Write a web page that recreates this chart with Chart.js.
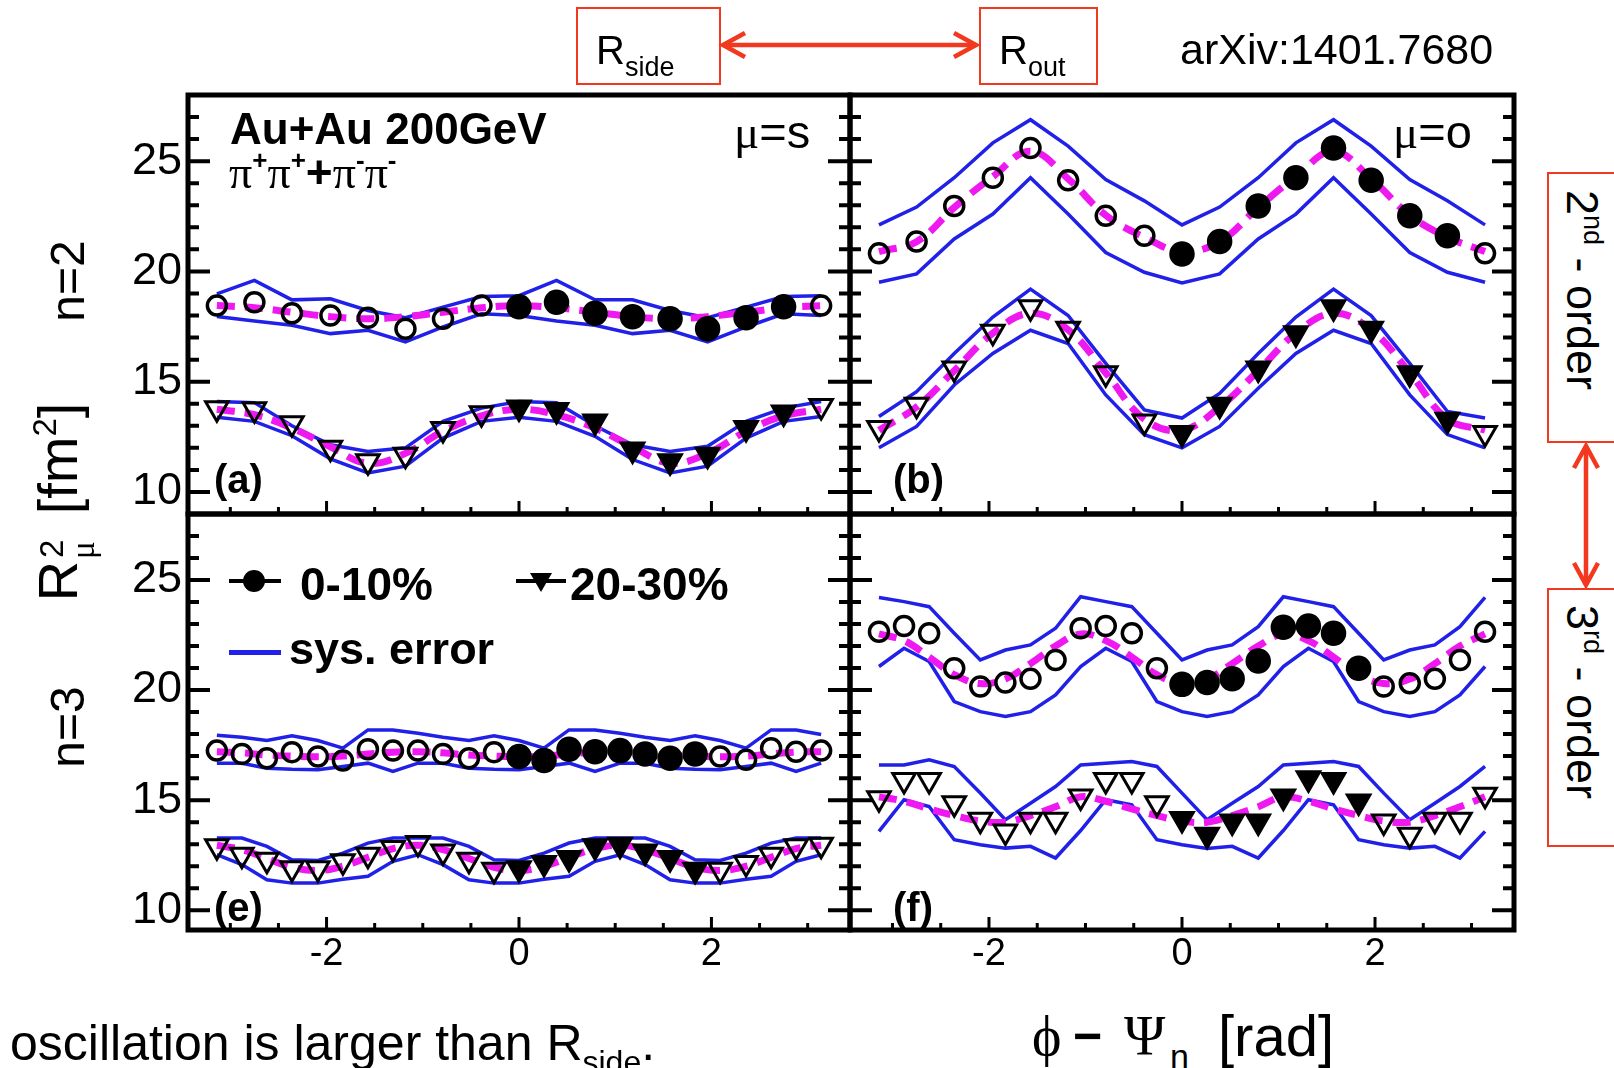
<!DOCTYPE html>
<html lang="en">
<head>
<meta charset="UTF-8">
<title>HBT radii vs phi - Psi_n</title>
<style>
  body { margin: 0; background: #fff; }
  #page { position: relative; width: 1614px; height: 1068px; overflow: hidden; background: #fff; font-family: "Liberation Sans", Arial, sans-serif; }
  #page canvas { position: absolute; }
  .t { position: absolute; white-space: nowrap; line-height: 1; color: #000; }
  .gr { font-family: "Liberation Serif", "DejaVu Serif", serif; font-weight: normal; }
  .sp { position: relative; top: -19px; font-size: 26px; }
  .rbox { position: absolute; border: 2px solid #f2381f; box-sizing: border-box; }
  .rot { transform: translate(-50%, -50%) rotate(-90deg); }
  .rotcw { transform: translate(-50%, -50%) rotate(90deg); }
  .mk { position: absolute; }
</style>
</head>
<body>
<div id="page">
  <canvas id="pa"></canvas>
  <canvas id="pb"></canvas>
  <canvas id="pe"></canvas>
  <canvas id="pf"></canvas>

  <!-- panel texts -->
  <div class="t" style="left:230px; top:107px; font-size:44px; font-weight:bold;">Au+Au 200GeV</div>
  <div class="t" style="left:229px; top:149px; font-size:46px; font-weight:bold;"><span class="gr">π</span><span class="sp">+</span><span class="gr">π</span><span class="sp">+</span>+<span class="gr">π</span><span class="sp">-</span><span class="gr">π</span><span class="sp">-</span></div>
  <div class="t" style="left:734px; top:108px; font-size:47px;"><span class="gr">μ</span>=s</div>
  <div class="t" style="left:1393px; top:108px; font-size:47px;"><span class="gr">μ</span>=o</div>
  <div class="t" style="left:214px; top:459px; font-size:40px; font-weight:bold;">(a)</div>
  <div class="t" style="left:893px; top:459px; font-size:40px; font-weight:bold;">(b)</div>
  <div class="t" style="left:214px; top:887px; font-size:40px; font-weight:bold;">(e)</div>
  <div class="t" style="left:893px; top:887px; font-size:40px; font-weight:bold;">(f)</div>

  <!-- legend in (e) -->
  <div class="mk" style="left:229px; top:579px; width:52px; height:4px; background:#000"></div>
  <div class="mk" style="left:243px; top:570px; width:22px; height:22px; border-radius:50%; background:#000"></div>
  <div class="t" style="left:300px; top:561px; font-size:46px; font-weight:bold;">0-10%</div>
  <div class="mk" style="left:516px; top:579px; width:50px; height:4px; background:#000"></div>
  <div class="mk" style="left:530px; top:573px; width:0; height:0; border-left:11px solid transparent; border-right:11px solid transparent; border-top:19px solid #000"></div>
  <div class="t" style="left:570px; top:561px; font-size:46px; font-weight:bold;">20-30%</div>
  <div class="mk" style="left:229px; top:650px; width:52px; height:5px; background:#2020e8"></div>
  <div class="t" style="left:289px; top:626px; font-size:45px; font-weight:bold;">sys. error</div>

  <!-- axis titles -->
  <div class="t rot" style="left:53px; top:502px; font-size:56px;">R<span style="display:inline-block; position:relative; width:31px; height:56px;"><span style="position:absolute; left:3px; top:14px; font-size:33px; line-height:1;">2</span><span class="gr" style="position:absolute; left:2px; top:46px; font-size:33px; line-height:1;">μ</span></span> [fm<span style="position:relative; top:-21px; font-size:33px;">2</span>]</div>
  <div class="t rot" style="left:68px; top:281px; font-size:48px;">n=2</div>
  <div class="t rot" style="left:68px; top:727px; font-size:48px;">n=3</div>
  <div class="t gr" style="left:1032px; top:1008px; font-size:56px;">ϕ</div>
  <div class="t" style="left:1073px; top:1011px; font-size:50px; font-weight:bold;">−</div>
  <div class="t gr" style="left:1124px; top:1008px; font-size:56px;">Ψ</div>
  <div class="t" style="left:1170px; top:1039px; font-size:34px;">n</div>
  <div class="t" style="left:1218px; top:1007px; font-size:58px;">[rad]</div>

  <!-- slide annotations -->
  <div class="rbox" style="left:576px; top:7px; width:145px; height:78px;"></div>
  <div class="t" style="left:596px; top:30px; font-size:40px;">R<span style="position:relative; top:12px; font-size:27px;">side</span></div>
  <div class="rbox" style="left:979px; top:7px; width:119px; height:78px;"></div>
  <div class="t" style="left:999px; top:30px; font-size:40px;">R<span style="position:relative; top:12px; font-size:27px;">out</span></div>
  <div class="t" style="left:1180px; top:28px; font-size:43px;">arXiv:1401.7680</div>
  <div class="rbox" style="left:1547px; top:172px; width:90px; height:271px;"></div>
  <div class="t rotcw" style="left:1582px; top:290px; font-size:45px;">2<span style="position:relative; top:-17px; font-size:27px;">nd</span> - order</div>
  <div class="rbox" style="left:1547px; top:588px; width:90px; height:259px;"></div>
  <div class="t rotcw" style="left:1582px; top:702px; font-size:45px;">3<span style="position:relative; top:-17px; font-size:27px;">rd</span> - order</div>
  <svg style="position:absolute; left:0; top:0;" width="1614" height="1068">
    <g stroke="#f2381f" stroke-width="4.5" fill="none">
      <line x1="723" y1="45" x2="976" y2="45"/>
      <polyline points="745,33 723,45 745,57"/>
      <polyline points="954,33 976,45 954,57"/>
      <line x1="1586" y1="446" x2="1586" y2="585"/>
      <polyline points="1574,468 1586,446 1598,468"/>
      <polyline points="1574,563 1586,585 1598,563"/>
    </g>
  </svg>
  <div class="t" style="left:10px; top:1018px; font-size:50px;">oscillation is larger than R<span style="position:relative; top:13px; font-size:32px;">side</span>.</div>
</div>

<script src="https://cdn.jsdelivr.net/npm/chart.js"></script>
<script>
// phi - Psi_n positions (rad)
const phiN2 = [-3.14, -2.75, -2.36, -1.96, -1.57, -1.18, -0.79, -0.39, 0, 0.39, 0.79, 1.18, 1.57, 1.96, 2.36, 2.75, 3.14];
const measN2 = [0,0,0,0,0,0,0,0,1,1,1,1,1,1,1,1,0];   // 1 = measured (filled), 0 = reflected (open)
const phiN3 = [-3.14, -2.88, -2.62, -2.36, -2.09, -1.83, -1.57, -1.31, -1.05, -0.79, -0.52, -0.26, 0,
               0.26, 0.52, 0.79, 1.05, 1.31, 1.57, 1.83, 2.09, 2.36, 2.62, 2.88, 3.14];
const measN3 = [0,0,0,0,0,0,0,0,0,0,0,0,1,1,1,1,1,1,1,1,0,0,0,0,0];

// (a) R_side^2, n=2
const side2C    = [18.45, 18.6, 18.1, 18.0, 17.9, 17.4, 17.85, 18.45, 18.4, 18.6, 18.1, 17.95, 17.85, 17.4, 17.9, 18.4, 18.45];
const side2CHi  = [18.98, 19.59, 18.71, 18.76, 18.23, 17.9, 18.38, 18.86, 18.9, 19.59, 18.71, 18.71, 18.23, 17.9, 18.38, 18.86, 18.9];
const side2CLo  = [17.96, 17.75, 17.56, 17.18, 17.33, 16.8, 17.48, 18.08, 18.0, 17.75, 17.56, 17.18, 17.33, 16.8, 17.48, 18.08, 18.0];
const side2CFit = [18.45, 18.35, 18.15, 17.95, 17.85, 17.95, 18.15, 18.35, 18.45, 18.35, 18.15, 17.95, 17.85, 17.95, 18.15, 18.35, 18.45];
const side2T    = [13.8, 13.75, 13.12, 12.0, 11.39, 11.69, 12.85, 13.57, 13.83, 13.72, 13.2, 11.92, 11.39, 11.69, 12.9, 13.6, 13.9];
const side2THi  = [14.1, 14.05, 13.0, 12.14, 11.84, 12.0, 13.2, 13.8, 14.1, 14.05, 13.0, 12.14, 11.84, 12.07, 13.2, 13.8, 14.1];
const side2TLo  = [13.39, 13.2, 12.55, 11.5, 10.86, 11.17, 12.44, 13.2, 13.39, 13.2, 12.52, 11.47, 10.86, 11.17, 12.44, 13.2, 13.42];
const side2TFit = [13.75, 13.5, 12.9, 12.05, 11.3, 11.75, 12.75, 13.45, 13.75, 13.5, 12.9, 12.05, 11.3, 11.75, 12.75, 13.45, 13.75];

// (b) R_out^2, n=2
const out2C    = [20.82, 21.36, 22.97, 24.25, 25.6, 24.13, 22.52, 21.62, 20.79, 21.36, 22.97, 24.25, 25.6, 24.13, 22.52, 21.62, 20.82];
const out2CHi  = [22.11, 22.92, 24.25, 25.83, 26.88, 25.68, 24.17, 23.2, 22.11, 22.92, 24.25, 25.83, 26.88, 25.68, 24.17, 23.2, 22.11];
const out2CLo  = [19.51, 19.89, 21.47, 22.6, 24.25, 22.6, 20.86, 19.96, 19.48, 19.89, 21.47, 22.6, 24.25, 22.6, 20.86, 19.96, 19.51];
const out2CFit = [20.9, 21.35, 22.9, 24.3, 25.45, 24.2, 22.55, 21.55, 20.9, 21.35, 22.9, 24.3, 25.45, 24.2, 22.55, 21.55, 20.9];
const out2T    = [12.9, 13.95, 15.6, 17.26, 18.38, 17.4, 15.38, 13.2, 12.67, 13.95, 15.6, 17.2, 18.38, 17.4, 15.38, 13.27, 12.67];
const out2THi  = [13.42, 14.55, 16.28, 17.93, 19.2, 18.0, 15.83, 13.72, 13.35, 14.47, 16.28, 17.93, 19.2, 18.0, 15.83, 13.65, 13.35];
const out2TLo  = [12.0, 12.97, 14.85, 16.28, 17.33, 16.73, 14.4, 12.6, 12.0, 12.97, 14.7, 16.28, 17.33, 16.73, 14.4, 12.6, 12.0];
const out2TFit = [12.8, 13.85, 15.5, 17.2, 18.1, 17.35, 15.4, 13.3, 12.8, 13.85, 15.5, 17.2, 18.1, 17.35, 15.4, 13.3, 12.8];

// (e) R_side^2, n=3
const side3C    = [17.25, 17.1, 16.9, 17.18, 16.98, 16.8, 17.31, 17.25, 17.25, 17.1, 16.9, 17.18, 16.98, 16.8, 17.31, 17.2, 17.25, 17.1, 16.9, 17.1, 16.98, 16.83, 17.36, 17.2, 17.25];
const side3CHi  = [17.95, 17.86, 17.71, 17.92, 17.71, 17.36, 18.19, 18.19, 18.04, 17.86, 17.71, 17.92, 17.71, 17.36, 18.19, 18.19, 18.04, 17.86, 17.71, 17.92, 17.71, 17.36, 18.19, 18.19, 17.98];
const side3CLo  = [16.68, 16.68, 16.45, 16.4, 16.38, 16.53, 16.68, 16.3, 16.68, 16.68, 16.45, 16.4, 16.38, 16.53, 16.68, 16.3, 16.68, 16.68, 16.45, 16.4, 16.38, 16.53, 16.68, 16.3, 16.68];
const side3CFit = [17.2, 17.15, 17.05, 17.0, 16.97, 17.0, 17.1, 17.18, 17.2, 17.15, 17.05, 17.0, 16.97, 17.0, 17.1, 17.18, 17.2, 17.15, 17.05, 17.0, 16.97, 17.0, 17.1, 17.18, 17.2];
const side3T    = [12.9, 12.52, 12.29, 11.91, 11.91, 12.22, 12.52, 12.82, 13.05, 12.67, 12.29, 11.84, 11.91, 12.14, 12.37, 12.9, 12.97, 12.67, 12.37, 11.84, 11.84, 12.14, 12.52, 12.9, 12.97];
const side3THi  = [13.28, 13.28, 12.9, 12.29, 12.26, 12.59, 13.05, 13.28, 13.28, 13.28, 12.9, 12.29, 12.26, 12.59, 13.05, 13.28, 13.28, 13.28, 12.9, 12.29, 12.26, 12.59, 13.05, 13.28, 13.28];
const side3TLo  = [12.52, 12.07, 11.38, 11.23, 11.23, 11.41, 11.54, 12.22, 12.52, 12.07, 11.38, 11.23, 11.23, 11.41, 11.54, 12.22, 12.52, 12.07, 11.38, 11.23, 11.23, 11.41, 11.54, 12.22, 12.52];
const side3TFit = [12.95, 12.75, 12.35, 11.95, 11.8, 12.0, 12.4, 12.8, 12.95, 12.75, 12.35, 11.95, 11.8, 12.0, 12.4, 12.8, 12.95, 12.75, 12.35, 11.95, 11.8, 12.0, 12.4, 12.8, 12.95];

// (f) R_out^2, n=3
const out3C    = [22.65, 22.91, 22.58, 20.99, 20.16, 20.34, 20.51, 21.37, 22.81, 22.91, 22.58, 20.99, 20.26, 20.34, 20.51, 21.32, 22.85, 22.91, 22.58, 20.99, 20.16, 20.31, 20.51, 21.37, 22.65];
const out3CHi  = [24.21, 24.02, 23.79, 22.58, 21.37, 21.82, 22.05, 22.81, 24.24, 24.02, 23.79, 22.58, 21.37, 21.82, 22.05, 22.88, 24.24, 24.02, 23.79, 22.58, 21.37, 21.82, 22.05, 22.88, 24.21];
const out3CLo  = [21.07, 21.9, 21.3, 19.48, 19.02, 18.8, 19.02, 19.78, 21.07, 21.9, 21.3, 19.48, 19.02, 18.8, 19.02, 19.78, 21.07, 21.9, 21.3, 19.48, 19.02, 18.8, 19.02, 19.78, 21.07];
const out3CFit = [22.55, 22.25, 21.5, 20.7, 20.3, 20.5, 21.2, 22.0, 22.55, 22.25, 21.5, 20.7, 20.3, 20.5, 21.2, 22.0, 22.55, 22.25, 21.5, 20.7, 20.3, 20.5, 21.2, 22.0, 22.55];
const out3T    = [15.09, 15.92, 15.92, 14.86, 14.11, 13.58, 14.11, 14.11, 15.17, 15.92, 15.92, 14.86, 14.14, 13.43, 14.03, 14.03, 15.17, 16.0, 15.92, 14.94, 14.03, 13.43, 14.11, 14.11, 15.24];
const out3THi  = [16.6, 16.6, 16.83, 16.53, 15.32, 14.11, 14.86, 15.62, 16.6, 16.68, 16.75, 16.53, 15.32, 14.11, 14.86, 15.62, 16.6, 16.68, 16.75, 16.53, 15.32, 14.11, 14.86, 15.62, 16.53];
const out3TLo  = [13.58, 15.02, 14.71, 13.2, 12.97, 12.82, 12.9, 12.37, 13.62, 15.02, 14.79, 13.2, 12.97, 12.8, 12.9, 12.37, 13.62, 15.02, 14.79, 13.2, 12.97, 12.82, 12.9, 12.37, 13.58];
const out3TFit = [15.15, 14.95, 14.6, 14.3, 14.05, 14.0, 14.3, 14.7, 15.15, 14.95, 14.6, 14.3, 14.05, 14.0, 14.3, 14.7, 15.15, 14.95, 14.6, 14.3, 14.05, 14.0, 14.3, 14.7, 15.15];

const BLUE = '#2020e8';
const MAGENTA = '#f018f0';

// frame + inward ticks, drawn through the chart's own scales
const frameTicks = {
  id: 'frameTicks',
  afterDraw(chart) {
    const ctx = chart.ctx, a = chart.chartArea;
    const xs = chart.scales.x, ys = chart.scales.y;
    ctx.save();
    ctx.strokeStyle = '#000';
    ctx.lineWidth = 4;
    ctx.beginPath();
    for (let v = Math.ceil(ys.min); v < ys.max; v++) {
      const py = ys.getPixelForValue(v);
      const len = v % 5 === 0 ? 22 : 11;
      ctx.moveTo(a.left, py); ctx.lineTo(a.left + len, py);
      ctx.moveTo(a.right, py); ctx.lineTo(a.right - len, py);
    }
    ctx.stroke();
    ctx.lineWidth = 3;
    ctx.beginPath();
    for (let v = -3; v <= 3; v += 0.5) {
      const px = xs.getPixelForValue(v);
      const len = v % 2 === 0 ? 13 : 7;
      ctx.moveTo(px, a.bottom); ctx.lineTo(px, a.bottom - len);
    }
    ctx.stroke();
    ctx.lineWidth = 5;
    ctx.strokeRect(a.left, a.top, a.right - a.left, a.bottom - a.top);
    ctx.restore();
  }
};

function pts(xs, ys) {
  return xs.map((x, i) => ({x: x, y: ys[i]}));
}

function series(xs, meas, marks, hi, lo, fit, shape) {
  const tri = shape === 'triangle';
  return [
    {data: pts(xs, marks), order: 0, showLine: false,
     pointStyle: shape, pointRotation: tri ? 180 : 0,
     pointRadius: meas.map(m => tri ? 13 : (m ? 11 : 9.5)),
     pointBorderWidth: tri ? 3 : 3.5, pointBorderColor: '#000',
     pointBackgroundColor: meas.map(m => m ? '#000' : 'rgba(0,0,0,0)')},
    {data: pts(xs, fit), order: 1, showLine: true, pointRadius: 0,
     borderColor: MAGENTA, borderWidth: 7, borderDash: [18, 10], tension: 0.4},
    {data: pts(xs, hi), order: 2, showLine: true, pointRadius: 0, borderColor: BLUE, borderWidth: 3.5},
    {data: pts(xs, lo), order: 2, showLine: true, pointRadius: 0, borderColor: BLUE, borderWidth: 3.5}
  ];
}

const PADL = 110, PADT = 40, PADR = 20, PADB = 60;

function makePanel(id, r, ymin, showX, showY, datasets) {
  const cv = document.getElementById(id);
  cv.width = r.right - r.left + PADL + PADR;
  cv.height = r.bottom - r.top + PADT + PADB;
  cv.style.left = (r.left - PADL) + 'px';
  cv.style.top = (r.top - PADT) + 'px';
  return new Chart(cv, {
    type: 'scatter',
    data: {datasets: datasets},
    options: {
      responsive: false,
      animation: false,
      events: [],
      layout: {padding: {top: PADT, right: PADR, left: 0, bottom: 0}},
      plugins: {legend: {display: false}, tooltip: {enabled: false}},
      scales: {
        x: {
          type: 'linear', min: -3.44, max: 3.44,
          afterFit: s => { s.height = PADB; },
          grid: {display: false, drawTicks: false},
          border: {display: false},
          ticks: {display: showX, stepSize: 2, includeBounds: false, padding: 2, maxRotation: 0,
                  color: '#000', font: {family: 'Liberation Sans', size: 38}}
        },
        y: {
          type: 'linear', min: ymin, max: 28,
          afterFit: s => { s.width = PADL; },
          grid: {display: false, drawTicks: false},
          border: {display: false},
          ticks: {display: showY, stepSize: 5, includeBounds: false, padding: 6,
                  color: '#000', font: {family: 'Liberation Sans', size: 45}}
        }
      }
    },
    plugins: [frameTicks]
  });
}

makePanel('pa', {left: 188, top: 95, right: 850, bottom: 514}, 9, false, true,
  series(phiN2, measN2, side2C, side2CHi, side2CLo, side2CFit, 'circle')
    .concat(series(phiN2, measN2, side2T, side2THi, side2TLo, side2TFit, 'triangle')));

makePanel('pb', {left: 850, top: 95, right: 1514, bottom: 514}, 9, false, false,
  series(phiN2, measN2, out2C, out2CHi, out2CLo, out2CFit, 'circle')
    .concat(series(phiN2, measN2, out2T, out2THi, out2TLo, out2TFit, 'triangle')));

makePanel('pe', {left: 188, top: 514, right: 850, bottom: 930}, 9.1, true, true,
  series(phiN3, measN3, side3C, side3CHi, side3CLo, side3CFit, 'circle')
    .concat(series(phiN3, measN3, side3T, side3THi, side3TLo, side3TFit, 'triangle')));

makePanel('pf', {left: 850, top: 514, right: 1514, bottom: 930}, 9.1, true, false,
  series(phiN3, measN3, out3C, out3CHi, out3CLo, out3CFit, 'circle')
    .concat(series(phiN3, measN3, out3T, out3THi, out3TLo, out3TFit, 'triangle')));
</script>
</body>
</html>
